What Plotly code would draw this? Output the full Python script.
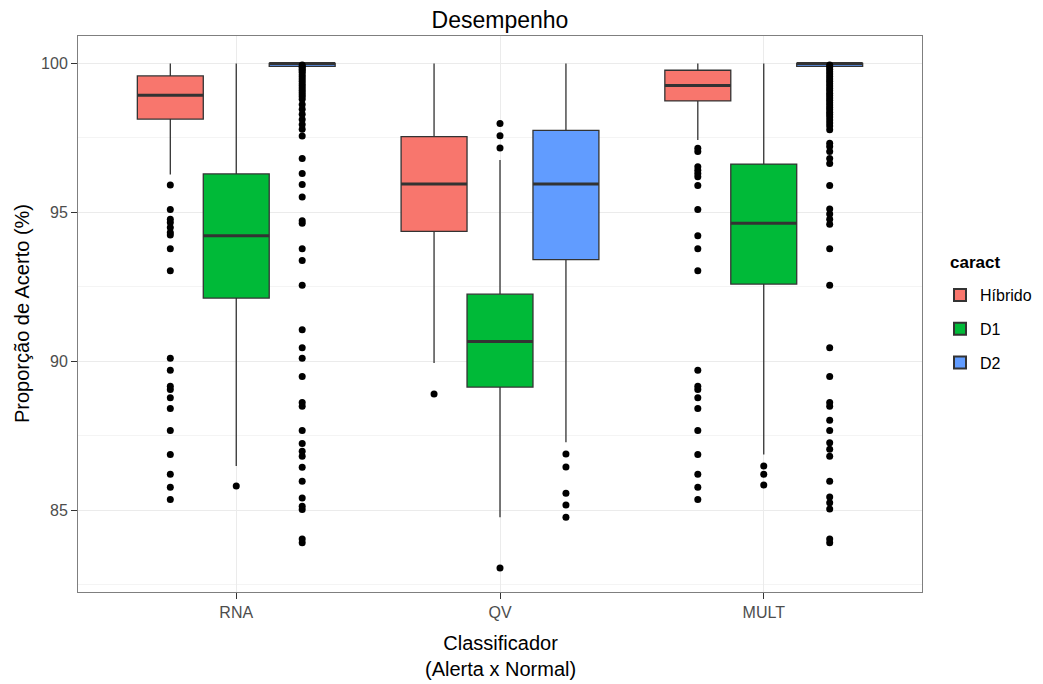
import plotly.graph_objects as go

# ---- data ----
categories = ["RNA", "QV", "MULT"]
groups = ["Híbrido", "D1", "D2"]
colors = {"Híbrido": "#F8766D", "D1": "#00BA38", "D2": "#619CFF"}

q1 = {
    "Híbrido": [98.13, 94.36, 98.74],
    "D1": [92.12, 89.13, 92.59],
    "D2": [99.90, 93.41, 99.90],
}
median = {
    "Híbrido": [98.93, 95.95, 99.26],
    "D1": [94.21, 90.66, 94.63],
    "D2": [100.0, 95.95, 100.0],
}
q3 = {
    "Híbrido": [99.58, 97.54, 99.77],
    "D1": [96.29, 92.25, 96.62],
    "D2": [100.0, 97.75, 100.0],
}
lowerfence = {
    "Híbrido": [96.27, 89.94, 97.43],
    "D1": [86.48, 84.76, 86.87],
    "D2": [99.87, 87.28, 99.87],
}
upperfence = {
    "Híbrido": [100.0, 100.0, 100.0],
    "D1": [100.0, 96.76, 100.0],
    "D2": [100.0, 100.0, 100.0],
}

outliers_rna_hib = [95.92, 95.09, 94.77, 94.66, 94.49, 94.32, 94.24, 93.78, 93.04,
                    90.10, 89.70, 89.16, 89.05, 88.77, 88.41, 87.67, 86.87, 86.20,
                    85.77, 85.36]
outliers_rna_d1 = [85.81]
outliers_rna_d2 = [99.95, 99.90, 99.85, 99.80, 99.75, 99.70, 99.62, 99.55, 99.48,
                   99.40, 99.32, 99.25, 99.17, 99.10, 99.02, 98.95, 98.88, 98.80,
                   98.62, 98.46, 98.29, 98.12, 97.95, 97.79, 97.56, 96.81, 96.30,
                   95.93, 95.51, 94.72, 94.63, 93.78, 93.38, 92.55, 91.06, 90.45,
                   90.10, 89.49, 88.61, 88.49, 87.67, 87.24, 86.98, 86.81, 86.44,
                   85.97, 85.41, 85.13, 85.02, 84.03, 83.90]
outliers_qv_hib = [88.90]
outliers_qv_d1 = [97.98, 97.57, 97.16, 83.06]
outliers_qv_d2 = [86.88, 86.45, 85.57, 85.17, 84.76]
outliers_mult_hib = [97.15, 97.04, 96.53, 96.41, 96.30, 96.19, 95.90, 95.09, 94.21,
                     93.78, 93.04, 89.70, 89.16, 89.05, 88.77, 88.41, 87.67, 86.87,
                     86.20, 85.77, 85.36]
outliers_mult_d1 = [86.48, 86.20, 85.84]
outliers_mult_d2 = [99.95, 99.88, 99.80, 99.72, 99.64, 99.56, 99.48, 99.40, 99.32,
                    99.24, 99.16, 99.08, 99.00, 98.92, 98.84, 98.76, 98.68, 98.60,
                    98.52, 98.44, 98.36, 98.28, 98.20, 98.10, 98.00, 97.90, 97.77,
                    97.32, 97.21, 97.04, 96.81, 96.64, 95.90, 95.11, 94.94, 94.77,
                    94.60, 93.78, 92.55, 90.45, 89.49, 88.61, 88.49, 88.02, 87.67,
                    87.26, 87.04, 86.81, 85.97, 85.44, 85.25, 85.04, 84.03, 83.90]

outliers = {
    "Híbrido": [outliers_rna_hib, outliers_qv_hib, outliers_mult_hib],
    "D1": [outliers_rna_d1, outliers_qv_d1, outliers_mult_d1],
    "D2": [outliers_rna_d2, outliers_qv_d2, outliers_mult_d2],
}

# ---- layout helpers ----
base_pos = [1, 2, 3]
offset = {"Híbrido": -0.25, "D1": 0.0, "D2": 0.25}
box_w = 0.25
FONT = "Liberation Sans, Arial, sans-serif"

W, H = 1035, 676          # page body has an 8px margin
PL, PT, PR, PB = 70, 28, 914, 584   # panel edges in figure pixels

fig = go.Figure()

for g in groups:
    pos = [b + offset[g] for b in base_pos]
    fig.add_trace(go.Box(
        name=g, x=pos,
        q1=q1[g], median=median[g], q3=q3[g],
        lowerfence=lowerfence[g], upperfence=upperfence[g],
        width=box_w, whiskerwidth=0,
        fillcolor=colors[g],
        line=dict(color="#333333", width=1.3),
        boxpoints=False,
        legendgroup=g, showlegend=True,
        hoverinfo="skip",
    ))

# thicker median lines
for g in groups:
    xs, ys = [], []
    for b, m in zip(base_pos, median[g]):
        p = b + offset[g]
        xs += [p - box_w / 2, p + box_w / 2, None]
        ys += [m, m, None]
    fig.add_trace(go.Scatter(x=xs, y=ys, mode="lines",
                             line=dict(color="#333333", width=3),
                             showlegend=False, hoverinfo="skip"))

# outliers
for g in groups:
    xs, ys = [], []
    for b, outs in zip(base_pos, outliers[g]):
        xs += [b + offset[g]] * len(outs)
        ys += outs
    fig.add_trace(go.Scatter(x=xs, y=ys, mode="markers",
                             marker=dict(color="black", size=7),
                             showlegend=False, hoverinfo="skip"))

pw, ph = PR - PL, PB - PT

def px_x(x):
    return (x - PL) / pw

def px_y(y):
    return (PB - y) / ph

fig.update_layout(
    width=W, height=H,
    margin=dict(l=PL, r=W - PR, t=PT, b=H - PB, autoexpand=False),
    paper_bgcolor="white", plot_bgcolor="white",
    boxmode="overlay",
    font=dict(family=FONT, color="#000000"),
    title=dict(text="Desempenho", x=0.5, xref="paper", xanchor="center",
               y=1 - 12 / H, yref="container", yanchor="middle",
               font=dict(size=23, color="#000000", family=FONT)),
    showlegend=True,
    legend=dict(
        font=dict(size=16, color="#000000"),
        xref="container", yref="container",
        x=932 / W, xanchor="left", y=1 - 270 / H, yanchor="top",
        traceorder="grouped", tracegroupgap=10,
        bgcolor="rgba(0,0,0,0)", itemsizing="constant",
    ),
    xaxis=dict(
        range=[0.4, 3.6], tickmode="array", tickvals=base_pos, ticktext=categories,
        showgrid=True, gridcolor="#EBEBEB", gridwidth=1,
        zeroline=False, showline=True, mirror=True, linecolor="#7F7F7F", linewidth=1,
        ticks="outside", ticklen=6, tickcolor="#333333", tickwidth=1,
        tickfont=dict(size=16, color="#4D4D4D"),
    ),
    yaxis=dict(
        range=[82.25, 100.92], tickmode="array", tickvals=[85, 90, 95, 100],
        showgrid=True, gridcolor="#EBEBEB", gridwidth=1,
        minor=dict(tickmode="array", tickvals=[82.5, 87.5, 92.5, 97.5],
                   showgrid=True, gridcolor="#F4F4F4", gridwidth=1, ticks=""),
        zeroline=False, showline=True, mirror=True, linecolor="#7F7F7F", linewidth=1,
        ticks="outside", ticklen=6, tickcolor="#333333", tickwidth=1,
        tickfont=dict(size=16, color="#4D4D4D"),
    ),
    annotations=[
        dict(text="Classificador<br>(Alerta x Normal)", xref="paper", yref="paper",
             x=0.5, y=px_y(648), xanchor="center", yanchor="middle",
             showarrow=False, font=dict(size=20, color="#000000", family=FONT)),
        dict(text="Proporção de Acerto (%)", xref="paper", yref="paper",
             x=px_x(14), y=0.5, xanchor="center", yanchor="middle",
             textangle=-90, showarrow=False,
             font=dict(size=20, color="#000000", family=FONT)),
        dict(text="<b>caract</b>", xref="paper", yref="paper",
             x=px_x(940), y=px_y(254), xanchor="left", yanchor="middle",
             showarrow=False, font=dict(size=17, color="#000000", family=FONT)),
    ],
)

fig.write_html("out.html")
